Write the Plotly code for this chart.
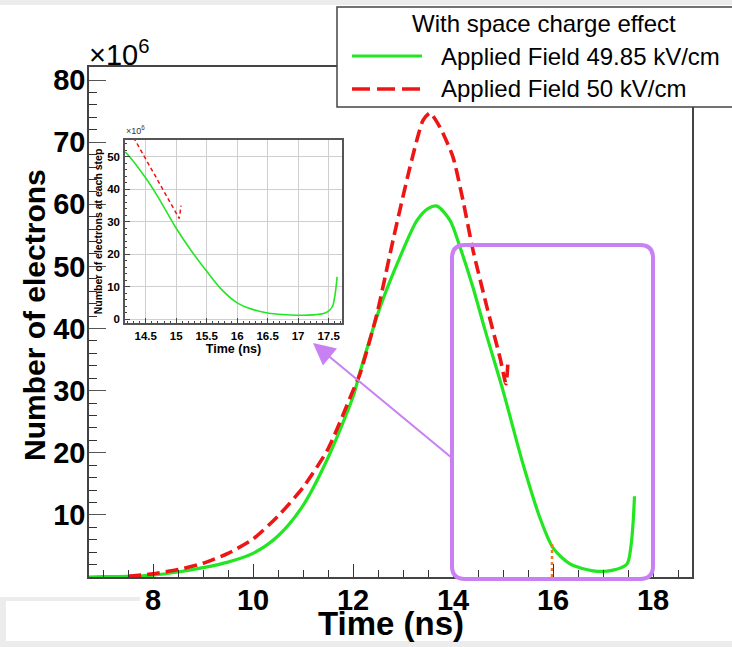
import plotly.graph_objects as go

# ---------------- data (number of electrons, units of 1e6) ----------------
t_green = [6.72, 7.0, 7.5, 8.0, 8.5, 9.0, 9.5, 10.0, 10.5, 11.0, 11.5, 12.0, 12.14, 12.54,
           12.94, 13.28, 13.5, 13.68, 13.94, 14.14, 14.4, 14.65, 15.0, 15.4, 15.74, 16.0,
           16.34, 16.8, 17.2, 17.48, 17.56, 17.6, 17.63]
n_green = [0.0, 0.05, 0.1, 0.3, 0.8, 1.5, 2.4, 3.8, 6.6, 11.5, 19.2, 29.0, 33.0, 43.4,
           51.5, 57.4, 59.3, 59.7, 57.4, 53.1, 46.6, 39.5, 30.0, 18.2, 9.5, 4.7,
           2.1, 1.0, 1.1, 2.1, 5.0, 8.5, 13.0]

t_red = [7.5, 8.0, 8.5, 9.0, 9.5, 10.0, 10.5, 11.0, 11.5, 12.0, 12.14, 12.48, 12.8, 13.14,
         13.4, 13.54, 13.74, 14.0, 14.2, 14.4, 14.68, 14.94, 15.06, 15.1]
n_red = [0.1, 0.5, 1.2, 2.2, 3.8, 6.1, 9.8, 14.4, 20.6, 30.0, 32.7, 42.4, 54.2, 66.0,
         73.5, 74.7, 72.4, 67.6, 60.6, 52.6, 43.4, 35.3, 31.1, 34.8]

# inset (zoom of the tail)
t_green_in = [14.16, 14.21, 14.5, 14.69, 15.0, 15.25, 15.51, 15.75, 16.0, 16.25, 16.5,
              16.75, 17.0, 17.25, 17.43, 17.52, 17.57, 17.61, 17.64]
n_green_in = [51.5, 50.6, 43.5, 38.0, 28.0, 21.0, 14.5, 9.0, 5.0, 3.0, 1.9,
              1.4, 1.2, 1.3, 1.8, 2.8, 4.2, 8.0, 13.0]
t_red_in = [14.3, 14.5, 14.75, 15.05, 15.08]
n_red_in = [56.0, 49.5, 41.0, 31.0, 35.0]

# small orange dotted marker near 16 ns
t_orange = [15.98, 15.98]
n_orange = [0.0, 5.5]

main_yticks = [10, 20, 30, 40, 50, 60, 70, 80]
main_xticks = [8, 10, 12, 14, 16, 18]
inset_yticks = [0, 10, 20, 30, 40, 50]
inset_xticks = [14.5, 15, 15.5, 16, 16.5, 17, 17.5]

x_title = "Time (ns)"
y_title = "Number of electrons"
inset_y_title = "Number of electrons at each step"
legend_title = "With space charge effect"
name_green = "Applied Field 49.85 kV/cm"
name_red = "Applied Field 50 kV/cm"

GREEN = "#22e622"
RED = "#ee1515"
PURPLE = "#c880f2"
FONT = "Liberation Sans"

# ---------------- layout helpers (pixel -> paper) ----------------
W, H = 732, 647
L, R, T, B = 89, 40, 67, 70
PW, PH = W - L - R, H - T - B


def px(x):
    return (x - L) / PW


def py(y):
    return (H - B - y) / PH


fig = go.Figure()

fig.add_trace(go.Scatter(x=t_green, y=n_green, mode="lines", name=name_green,
                         line=dict(color=GREEN, width=3.2, shape="spline", smoothing=0.8),
                         showlegend=False))
fig.add_trace(go.Scatter(x=t_red, y=n_red, mode="lines", name=name_red,
                         line=dict(color=RED, width=3.6, dash="13px,6px", shape="spline", smoothing=0.6),
                         showlegend=False))
fig.add_trace(go.Scatter(x=t_orange, y=n_orange, mode="lines", showlegend=False,
                         line=dict(color="#f07a20", width=2.5, dash="dot")))

fig.add_trace(go.Scatter(x=t_green_in, y=n_green_in, mode="lines", xaxis="x2", yaxis="y2",
                         line=dict(color=GREEN, width=1.6, shape="spline", smoothing=0.8),
                         showlegend=False))
fig.add_trace(go.Scatter(x=t_red_in, y=n_red_in, mode="lines", xaxis="x2", yaxis="y2",
                         line=dict(color=RED, width=1.5, dash="4px,3px"), showlegend=False))

axis_font = dict(family=FONT, size=29, color="black", weight="bold")

fig.update_layout(
    width=W, height=H, autosize=False,
    margin=dict(l=L, r=R, t=T, b=B, pad=0, autoexpand=False),
    paper_bgcolor="white", plot_bgcolor="white",
    font=dict(family=FONT, color="black"),
    xaxis=dict(range=[6.72, 18.78], tickvals=main_xticks, ticktext=[str(v) for v in main_xticks],
               ticks="inside", ticklen=13, tickwidth=1.3, tickcolor="#333",
               minor=dict(dtick=0.5, tick0=0, ticks="inside", ticklen=7, tickcolor="#333"),
               showgrid=False, zeroline=False, showline=True, linecolor="#444", linewidth=1.5,
               mirror=True, tickfont=axis_font, ticklabelstandoff=-4, automargin=False),
    yaxis=dict(range=[0, 82.1], tickvals=main_yticks, ticktext=[str(v) for v in main_yticks],
               ticks="inside", ticklen=17, tickwidth=1.3, tickcolor="#555",
               minor=dict(dtick=2, tick0=0, ticks="inside", ticklen=8, tickcolor="#333"),
               showgrid=False, zeroline=False, showline=True, linecolor="#444", linewidth=1.5,
               mirror=True, tickfont=axis_font, ticklabelstandoff=-4, automargin=False),
    xaxis2=dict(domain=[px(125), px(342)], anchor="y2", range=[14.16, 17.72],
                tickvals=inset_xticks, ticktext=["14.5", "15", "15.5", "16", "16.5", "17", "17.5"],
                ticks="inside", ticklen=5, tickcolor="#444",
                minor=dict(dtick=0.1, tick0=0, ticks="inside", ticklen=2.5, tickcolor="#444"),
                showgrid=True, gridcolor="#cfcfcf", gridwidth=1, zeroline=False,
                showline=True, linecolor="#555", linewidth=1.5, mirror=True, automargin=False,
                tickfont=dict(family=FONT, size=11.5, weight="bold"), ticklabelstandoff=1,
                title=dict(text=x_title, font=dict(family=FONT, size=12.5, weight="bold"),
                           standoff=0)),
    yaxis2=dict(domain=[py(323), py(140)], anchor="x2", range=[-1.2, 55.2],
                tickvals=inset_yticks, ticktext=[str(v) for v in inset_yticks],
                ticks="inside", ticklen=5, tickcolor="#444",
                minor=dict(dtick=2, tick0=0, ticks="inside", ticklen=2.5, tickcolor="#444"),
                showgrid=True, gridcolor="#cfcfcf", gridwidth=1, zeroline=False,
                showline=True, linecolor="#555", linewidth=1.5, mirror=True, automargin=False,
                tickfont=dict(family=FONT, size=11.5, weight="bold"), ticklabelstandoff=1,
                title=dict(text=inset_y_title,
                           font=dict(family=FONT, size=10.5, weight="bold"), standoff=2)),
)

shapes = []
# light gray border decorations of the original picture
GRAY = "#ececec"
shapes.append(dict(type="rect", xref="paper", yref="paper", x0=px(0), x1=px(W), y0=py(0), y1=py(5),
                   fillcolor=GRAY, line=dict(width=0), layer="below"))
shapes.append(dict(type="rect", xref="paper", yref="paper", x0=px(0), x1=px(W), y0=py(641), y1=py(H),
                   fillcolor=GRAY, line=dict(width=0), layer="below"))
shapes.append(dict(type="rect", xref="paper", yref="paper", x0=px(0), x1=px(6), y0=py(597), y1=py(H),
                   fillcolor=GRAY, line=dict(width=0), layer="below"))
shapes.append(dict(type="rect", xref="paper", yref="paper", x0=px(0), x1=px(140), y0=py(597), y1=py(601),
                   fillcolor=GRAY, line=dict(width=0), layer="below"))

# purple rounded highlight box
x0, x1, y0, y1 = px(452), px(653), py(579), py(245)
rx, ry = 13 / PW, 13 / PH
path = (f"M {x0+rx},{y0} L {x1-rx},{y0} Q {x1},{y0} {x1},{y0+ry} L {x1},{y1-ry} "
        f"Q {x1},{y1} {x1-rx},{y1} L {x0+rx},{y1} Q {x0},{y1} {x0},{y1-ry} "
        f"L {x0},{y0+ry} Q {x0},{y0} {x0+rx},{y0} Z")
shapes.append(dict(type="path", xref="paper", yref="paper", path=path,
                   line=dict(color=PURPLE, width=4)))

# legend box (drawn manually)
shapes.append(dict(type="rect", xref="paper", yref="paper", x0=px(337), x1=px(740), y0=py(107), y1=py(7),
                   fillcolor="white", line=dict(color="#444", width=1.5)))
shapes.append(dict(type="line", xref="paper", yref="paper", x0=px(352), x1=px(422), y0=py(56), y1=py(56),
                   line=dict(color=GREEN, width=3.2)))
shapes.append(dict(type="line", xref="paper", yref="paper", x0=px(352), x1=px(422), y0=py(89), y1=py(89),
                   line=dict(color=RED, width=3.6, dash="18px,7px")))

fig.update_layout(shapes=shapes)

annotations = [
    # main axis titles
    dict(xref="paper", yref="paper", x=px(391), y=py(644), text=x_title, showarrow=False,
         xanchor="center", yanchor="bottom",
         font=dict(family=FONT, size=33, color="black", weight="bold")),
    dict(xref="paper", yref="paper", x=px(34), y=py(315), text=y_title, showarrow=False,
         textangle=-90, xanchor="center", yanchor="middle",
         font=dict(family=FONT, size=30, color="black", weight="bold")),
    # legend texts
    dict(xref="paper", yref="paper", x=px(544), y=py(23), text=legend_title, showarrow=False,
         xanchor="center", yanchor="middle", font=dict(family=FONT, size=24, color="black")),
    dict(xref="paper", yref="paper", x=px(439), y=py(56), text=name_green, showarrow=False,
         xanchor="left", yanchor="middle", font=dict(family=FONT, size=24, color="black")),
    dict(xref="paper", yref="paper", x=px(439), y=py(89), text=name_red, showarrow=False,
         xanchor="left", yanchor="middle", font=dict(family=FONT, size=24, color="black")),
    # exponent labels
    dict(xref="paper", yref="paper", x=px(87), y=py(73), text="×10<sup>6</sup>", showarrow=False,
         xanchor="left", yanchor="bottom", font=dict(family=FONT, size=29, color="black")),
    dict(xref="paper", yref="paper", x=px(124), y=py(138), text="×10<sup>6</sup>", showarrow=False,
         xanchor="left", yanchor="bottom", font=dict(family=FONT, size=9, color="#333")),
    # arrow from the highlighted region to the inset
    dict(xref="paper", yref="paper", x=px(313), y=py(343), ax=452 - 313, ay=458 - 343,
         axref="pixel", ayref="pixel", text="", showarrow=True,
         arrowhead=2, arrowsize=2.2, arrowwidth=2, arrowcolor=PURPLE, standoff=0),
]
fig.update_layout(annotations=annotations)

fig.write_html("out.html")
